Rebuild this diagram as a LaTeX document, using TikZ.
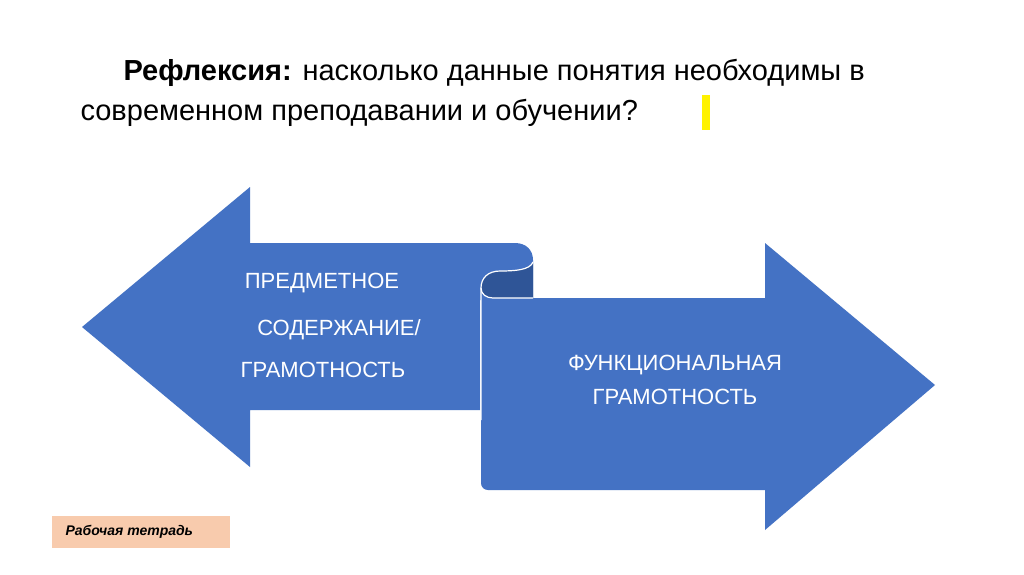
\documentclass[tikz,border=0pt]{standalone}
\usepackage{fontspec}
\setmainfont{Liberation Sans}
\definecolor{ab}{HTML}{4472C4}
\definecolor{ad}{HTML}{2F5597}
\definecolor{pe}{HTML}{F8CBAD}
\begin{document}
\begin{tikzpicture}[x=1pt,y=-1pt,
 lbl/.style={text=white,font=\fontsize{22}{26}\selectfont,align=center}]
\useasboundingbox[fill=white] (0,0) rectangle (1024,574);
\node[anchor=base west,font=\fontsize{29}{34}\selectfont] (t1) at (120,80) {\textbf{Рефлексия:} насколько данные понятия необходимы в};
\node[anchor=base west,font=\fontsize{29}{34}\selectfont] (t2) at (77,120) {современном преподавании и обучении?};
\fill[yellow] (702,95) rectangle (710,130);
% left arrow
\fill[ab] (82,327) -- (250,187) -- (250,243) -- (515,243) .. controls (526,243) and (533,250) .. (533,260) -- (533,300) -- (480,300) -- (480,410) -- (250,410) -- (250,467) -- cycle;
% dark curl
\fill[ad] (481,288) .. controls (481,278) and (488,271) .. (500,271) .. controls (515,271) and (530,270) .. (533,262) -- (533,298) -- (493,298) .. controls (486,298) and (481,294) .. (481,288);
% right arrow
\fill[ab] (481,288) -- (481,483) .. controls (481,487) and (484,490) .. (488,490) -- (765,490) -- (765,530) -- (935,385) -- (765,243) -- (765,298) -- (493,298) .. controls (486,298) and (481,294) .. (481,288);
\draw[white,line width=1.2pt] (481,420) -- (481,288) .. controls (481,278) and (488,271) .. (500,271) .. controls (515,271) and (530,270) .. (533,262);
\draw[white,line width=1.2pt] (481,288) .. controls (481,294) and (486,298) .. (493,298) -- (533,298);
\node[lbl] (a1) at (322,283) {ПРЕДМЕТНОЕ};
\node[lbl] (a2) at (339,330) {СОДЕРЖАНИЕ/};
\node[lbl] (a3) at (323,370) {ГРАМОТНОСТЬ};
\node[lbl] (b1) at (675,365) {ФУНКЦИОНАЛЬНАЯ};
\node[lbl] (b2) at (675,397) {ГРАМОТНОСТЬ};
\node[fill=pe,minimum width=178,minimum height=32,anchor=north west,inner sep=0] (w) at (52,516) {};
\node[anchor=west,font=\fontsize{14}{16}\selectfont\bfseries\itshape] (wt) at (62,532) {Рабочая тетрадь};
\end{tikzpicture}
\end{document}
